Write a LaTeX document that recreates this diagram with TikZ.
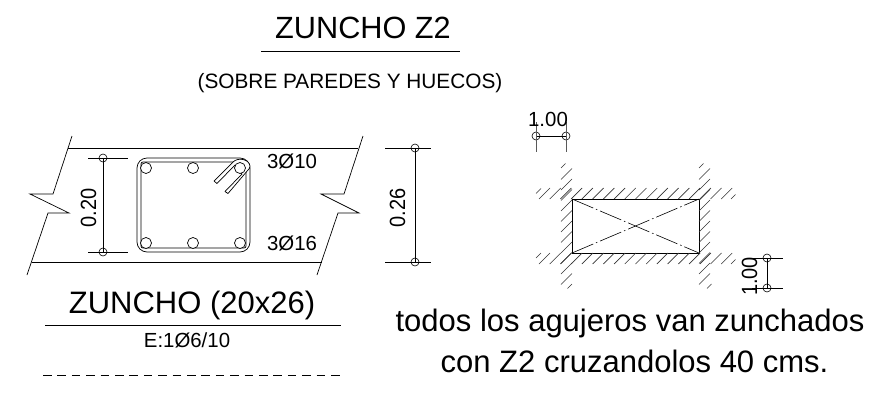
\documentclass[tikz,border=0pt]{standalone}
\usepackage{fontspec}
\setmainfont{Liberation Sans}
\tikzset{
  ln/.style={draw=black,line width=0.7pt},
  hatch/.style={draw=black!80,line width=0.65pt},
  dimdot/.style={circle,draw=black,line width=0.6pt,minimum size=8pt,inner sep=0pt},
  bar/.style={circle,draw=black,line width=0.7pt,minimum size=11pt,inner sep=0pt},
  txt/.style={inner sep=0pt,text=black,anchor=base},
  fa/.style={txt,font=\fontsize{20.4}{24}\selectfont},
  fr/.style={txt,font=\fontsize{22}{26}\selectfont,rotate=90,xscale=.91},
  fb/.style={txt,font=\fontsize{31}{36}\selectfont},
  ft/.style={txt,font=\fontsize{30.7}{36}\selectfont},
  fc/.style={txt,font=\fontsize{20.8}{25}\selectfont},
  fd/.style={txt,font=\fontsize{31}{37}\selectfont},
}
\begin{document}
\begin{tikzpicture}[x=1pt,y=-1pt]
\useasboundingbox (0,0) rectangle (892,405);
% titles
\node[ft] (title) at (363,38) {ZUNCHO Z2};
\coordinate (tl) at (261,51); \coordinate (tr) at (460,51);
\draw[ln] (tl) -- (tr);
\node[fc] (sub) at (350,88) {(SOBRE PAREDES Y HUECOS)};
% beam
\coordinate (a1) at (68,148); \coordinate (a2) at (358,148);
\coordinate (b1) at (32,262); \coordinate (b2) at (322,262);
\draw[ln] (a1) -- (a2);
\draw[ln] (b1) -- (b2);
\draw[ln] (72,136) -- (53,194) -- (30,194) -- (69,213) -- (48,213) -- (27,275);
\draw[ln] (363,136) -- (344,194) -- (321,194) -- (359,213) -- (338,213) -- (317,275);
% stirrup
\draw[ln,rounded corners=10pt] (137,158) rectangle (250,252);
\draw[ln,rounded corners=2pt] (141,162) rectangle (246,248);
\foreach \n/\x/\y in {b1/146/168,b2/193/168,b4/146/243,b5/193/243,b6/240/243}
  \node[bar,fill=white] (\n) at (\x,\y) {};
\draw[ln,fill=white,line join=round] (214,181) -- (233,162)
  .. controls (238,157) and (249,159) .. (250,166) .. controls (250,168) and (249,169) .. (248,170)
  -- (228,193.5) -- (225,191.5) -- (242,174)
  -- (235,165)
  -- (217,183.5) -- cycle;
\node[bar,fill=white] (b3) at (240,168) {};
\node[fa] (t310) at (292,168) {3Ø10};
\node[fa] (t316) at (292,250) {3Ø16};
% dim 0.20
\node[dimdot] (d1) at (103,158) {};
\node[dimdot] (d2) at (103,252) {};
\draw[ln] (d1.center) -- (d2.center);
\draw[ln] (88,158) -- (128,158);
\draw[ln] (88,252) -- (128,252);
\node[fr] (t20) at (96,208) {0.20};
% dim 0.26
\node[dimdot] (d3) at (415,148) {};
\node[dimdot] (d4) at (415,262) {};
\draw[ln] (d3.center) -- (d4.center);
\draw[ln] (385,148) -- (431,148);
\draw[ln] (385,262) -- (431,262);
\node[fr] (t26) at (405,208) {0.26};
% zuncho label
\node[fb] (zl) at (192,313) {ZUNCHO (20x26)};
\draw[ln] (45,325) -- (341,325);
\node[fa] (esc) at (187,347) {E:1Ø6/10};
\draw[ln,dash pattern=on 8.5pt off 5.9pt] (43,375) -- (344,375);
% opening
\coordinate (r1) at (572,199); \coordinate (r2) at (699,199);
\coordinate (r3) at (699,253); \coordinate (r4) at (572,253);
\draw[draw=black,line width=0.8pt] (r1) -- (r2) -- (r3) -- (r4) -- cycle;
\draw[draw=black,line width=0.6pt,dash pattern=on 23pt off 3pt on 1.5pt off 3pt] (r1) -- (r3);
\draw[draw=black,line width=0.6pt,dash pattern=on 23pt off 3pt on 1.5pt off 3pt] (r4) -- (r2);
% hatching
\foreach \k in {0,...,17}{
  \draw[hatch] ({539+10.72*\k},199) -- ++(11,-11);
  \draw[hatch] ({539+10.72*\k},264) -- ++(11,-11);
}
\draw[hatch] (536,193.5) -- (541,188.5);
\draw[hatch] (536,258) -- (541,253);
\draw[hatch] (731,199) -- (735.5,194.5);
\draw[hatch] (731,264) -- (735.5,259.5);
\foreach \k in {-3,...,7}{
  \draw[hatch] (561,{211+10.5*\k}) -- ++(11,-11);
  \draw[hatch] (699,{211+10.5*\k}) -- ++(11,-11);
}
\draw[hatch] (561,168) -- (565.5,163.5);
\draw[hatch] (699,168) -- (703.5,163.5);
\draw[hatch] (567.5,288.5) -- (572,284);
\draw[hatch] (707,288.5) -- (711.5,284);
% dim 1.00 top
\node[dimdot] (d5) at (536,136) {};
\node[dimdot] (d6) at (566,136) {};
\draw[ln] (d5.center) -- (d6.center);
\draw[draw=black!65,line width=0.8pt] (536,122) -- (536,152);
\draw[draw=black!65,line width=0.8pt] (566,122) -- (566,152);
\node[fa] (t1a) at (548,126) {1.00};
% dim 1.00 right
\node[dimdot] (d7) at (767,258) {};
\node[dimdot] (d8) at (767,288) {};
\draw[ln] (d7.center) -- (d8.center);
\draw[ln] (752,258) -- (783,258);
\draw[ln] (752,288) -- (783,288);
\node[fr] (t1b) at (757,276.5) {1.00};
% note
\node[fd] (n1) at (630,331) {todos los agujeros van zunchados};
\node[fd] (n2) at (634.5,372) {con Z2 cruzandolos 40 cms.};
\end{tikzpicture}
\end{document}
